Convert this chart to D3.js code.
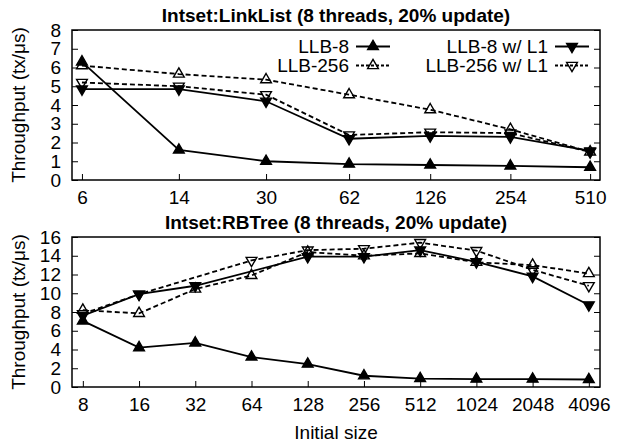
<!DOCTYPE html>
<html>
<head>
<meta charset="utf-8">
<script src="https://cdn.jsdelivr.net/npm/d3@7"></script>
<style>
  body { margin: 0; background: white; }
  svg { display: block; font-family: "Liberation Sans", Arial, sans-serif; }
</style>
</head>
<body>
<div id="wrapper"></div>
<script>

// data
const seriesNames = ["LLB-8", "LLB-256", "LLB-8 w/ L1", "LLB-256 w/ L1"]

const listSizes = [6, 14, 30, 62, 126, 254, 510]
const listLlb8 = [6.3, 1.6, 1.0, 0.85, 0.8, 0.75, 0.68]
const listLlb256 = [6.1, 5.65, 5.35, 4.55, 3.75, 2.7, 1.5]
const listLlb8L1 = [4.85, 4.85, 4.2, 2.2, 2.35, 2.3, 1.55]
const listLlb256L1 = [5.2, 5.0, 4.55, 2.4, 2.55, 2.5, 1.5]

const treeSizes = [8, 16, 32, 64, 128, 256, 512, 1024, 2048, 4096]
const treeLlb8 = [7.05, 4.2, 4.7, 3.2, 2.45, 1.2, 0.9, 0.85, 0.85, 0.8]
const treeLlb256 = [8.2, 7.85, 10.45, 11.9, 14.4, 14.0, 14.25, 13.3, 13.0, 12.1]
const treeLlb8L1 = [7.6, 9.9, 10.8, null, 13.9, 13.9, 14.6, 13.35, 11.8, 8.75]
const treeLlb256L1 = [7.8, 9.9, null, 13.5, 14.6, 14.75, 15.4, 14.55, 12.5, 10.8]

const listYTicks = [0, 1, 2, 3, 4, 5, 6, 7, 8]
const treeYTicks = [0, 2, 4, 6, 8, 10, 12, 14, 16]


// how each series is drawn
const styles = [
  { dash: null, down: false, filled: true },
  { dash: "5,3", down: false, filled: false },
  { dash: null, down: true, filled: true },
  { dash: "5,3", down: true, filled: false },
]

const fontSize = 19
const tickLen = 6

const wrapper = d3.select("#wrapper")
  .append("svg")
    .attr("width", 623)
    .attr("height", 442)

const markerPath = d3.symbol(d3.symbolTriangle, 50)()

function drawMarker(g, x, y, style) {
  g.append("path")
    .attr("d", markerPath)
    .attr("transform", `translate(${x},${y})${style.down ? " rotate(180)" : ""}`)
    .attr("fill", style.filled ? "black" : "none")
    .attr("stroke", "black")
    .attr("stroke-width", 1.4)
}

function drawPanel({ top, title, sizes, series, xDomain, yMax, yTicks, legend }) {
  const dims = { left: 72, width: 528, height: 150 }

  const bounds = wrapper.append("g")
    .attr("transform", `translate(${dims.left},${top})`)

  const xScale = d3.scaleLog()
    .base(2)
    .domain(xDomain)
    .range([0, dims.width])

  const yScale = d3.scaleLinear()
    .domain([0, yMax])
    .range([dims.height, 0])

  // axes, ticks pointing inwards
  const yAxis = bounds.append("g")
    .call(d3.axisLeft(yScale)
      .tickValues(yTicks)
      .tickSizeInner(-tickLen)
      .tickSizeOuter(0)
      .tickPadding(11))
  const yAxisRight = bounds.append("g")
    .attr("transform", `translate(${dims.width},0)`)
    .call(d3.axisRight(yScale)
      .tickValues(yTicks)
      .tickSizeInner(-tickLen)
      .tickSizeOuter(0)
      .tickFormat(""))
  const xAxis = bounds.append("g")
    .attr("transform", `translate(0,${dims.height})`)
    .call(d3.axisBottom(xScale)
      .tickValues(sizes)
      .tickFormat(d3.format("d"))
      .tickSizeInner(-tickLen)
      .tickSizeOuter(0)
      .tickPadding(0))

  for (const ax of [yAxis, yAxisRight, xAxis]) {
    ax.select(".domain").remove()
    ax.selectAll(".tick line").attr("stroke", "black").attr("stroke-width", 1)
    ax.selectAll("text")
      .attr("fill", "black")
      .style("font-size", `${fontSize}px`)
  }
  xAxis.selectAll("text")
    .attr("dy", null)
    .attr("y", 24)

  bounds.append("rect")
    .attr("width", dims.width)
    .attr("height", dims.height)
    .attr("fill", "none")
    .attr("stroke", "black")
    .attr("stroke-width", 1.5)

  wrapper.append("text")
    .attr("x", dims.left + dims.width / 2)
    .attr("y", top - 8)
    .attr("text-anchor", "middle")
    .style("font-size", `${fontSize}px`)
    .style("font-weight", "bold")
    .text(title)

  wrapper.append("text")
    .attr("transform", `translate(25,${top + dims.height / 2}) rotate(-90)`)
    .attr("text-anchor", "middle")
    .style("font-size", `${fontSize}px`)
    .text("Throughput (tx/\u03bcs)")

  // lines and markers
  const line = d3.line()
    .x(d => xScale(d.size))
    .y(d => yScale(d.value))

  series.forEach((values, i) => {
    const points = sizes
      .map((size, j) => ({ size, value: values[j] }))
      .filter(d => d.value != null)
    const style = styles[i]

    bounds.append("path")
      .datum(points)
      .attr("d", line)
      .attr("fill", "none")
      .attr("stroke", "black")
      .attr("stroke-width", 1.8)
      .attr("stroke-dasharray", style.dash)

    for (const p of points) {
      drawMarker(bounds, xScale(p.size), yScale(p.value), style)
    }
  })

  if (legend) {
    const cols = [277, 476]
    const rows = [16.5, 35.5]
    seriesNames.forEach((name, i) => {
      const cx = cols[Math.floor(i / 2)]
      const cy = rows[i % 2]
      bounds.append("text")
        .attr("x", cx)
        .attr("y", cy)
        .attr("dy", "0.35em")
        .attr("text-anchor", "end")
        .style("font-size", `${fontSize}px`)
        .text(name)
      bounds.append("line")
        .attr("x1", cx + 7)
        .attr("x2", cx + 41)
        .attr("y1", cy)
        .attr("y2", cy)
        .attr("stroke", "black")
        .attr("stroke-width", 1.8)
        .attr("stroke-dasharray", styles[i].dash ? "3,2" : null)
      drawMarker(bounds, cx + 24, cy, styles[i])
    })
  }
}

drawPanel({
  top: 30,
  title: "Intset:LinkList (8 threads, 20% update)",
  sizes: listSizes,
  series: [listLlb8, listLlb256, listLlb8L1, listLlb256L1],
  xDomain: [5.5, 556],
  yMax: 8,
  yTicks: listYTicks,
  legend: true,
})

drawPanel({
  top: 237,
  title: "Intset:RBTree (8 threads, 20% update)",
  sizes: treeSizes,
  series: [treeLlb8, treeLlb256, treeLlb8L1, treeLlb256L1],
  xDomain: [7, 4700],
  yMax: 16,
  yTicks: treeYTicks,
  legend: false,
})

wrapper.append("text")
  .attr("x", 336)
  .attr("y", 439)
  .attr("text-anchor", "middle")
  .style("font-size", `${fontSize}px`)
  .text("Initial size")

</script>
</body>
</html>
